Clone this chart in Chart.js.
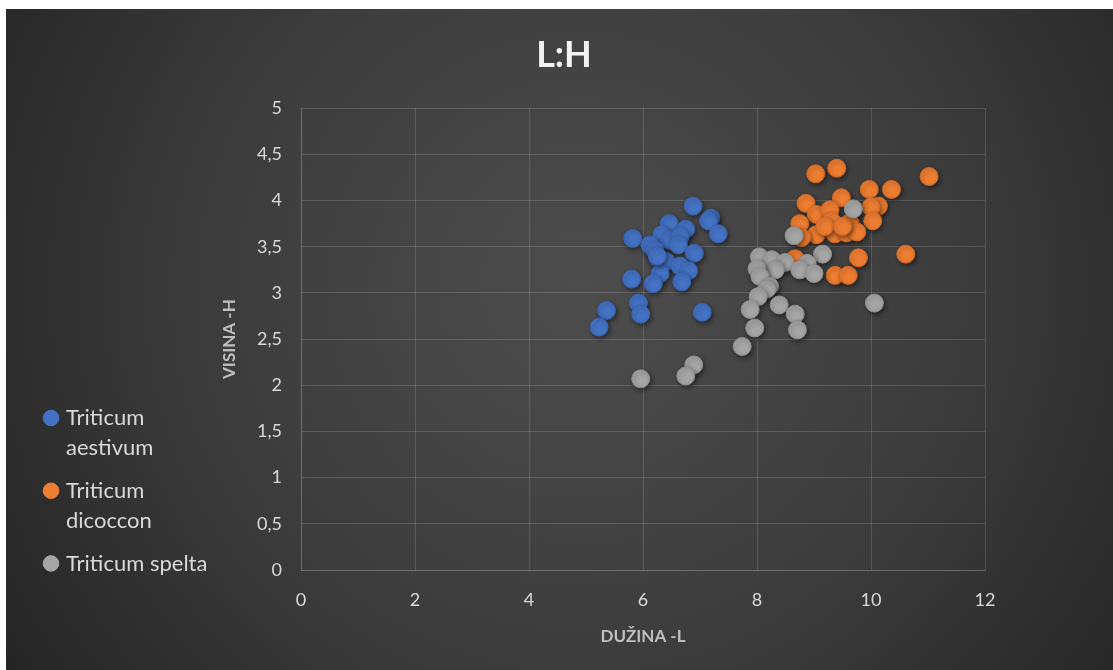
<!DOCTYPE html>
<html>
<head>
<meta charset="utf-8">
<script src="https://cdn.jsdelivr.net/npm/chart.js@4/dist/chart.umd.min.js"></script>
<style>
  html, body { margin: 0; padding: 0; background: #ffffff; }
  #wrap { position: absolute; left: 6px; top: 9px; width: 1107px; height: 661px; }
</style>
</head>
<body>
<div id="wrap"><canvas id="scatter-chart"></canvas></div>
<script>
// serije (nazivi)
var seriesNames = ['Triticum aestivum', 'Triticum dicoccon', 'Triticum spelta'];

// Triticum aestivum: DUŽINA -L / VISINA -H
var aestivumL = [6.88, 7.19, 7.15, 7.32, 6.46, 6.75, 5.82, 6.33, 6.12, 6.47, 6.65, 6.62, 6.21, 6.90, 6.27, 6.40, 6.30, 6.65, 6.80, 5.80, 6.18, 6.68, 5.92, 5.96, 5.36, 5.23, 7.04, 6.25];
var aestivumH = [3.94, 3.81, 3.78, 3.64, 3.75, 3.69, 3.59, 3.63, 3.52, 3.57, 3.61, 3.52, 3.46, 3.43, 3.37, 3.34, 3.21, 3.29, 3.24, 3.15, 3.10, 3.12, 2.89, 2.77, 2.81, 2.63, 2.79, 3.40];

// Triticum dicoccon
var dicocconL = [9.03, 9.40, 11.02, 9.97, 10.36, 8.86, 9.48, 10.13, 10.00, 9.04, 9.28, 9.31, 8.75, 10.03, 9.63, 9.04, 9.37, 9.57, 9.75, 8.78, 9.78, 10.61, 8.67, 9.37, 9.60, 9.19, 9.50];
var dicocconH = [4.29, 4.35, 4.26, 4.12, 4.12, 3.97, 4.03, 3.94, 3.93, 3.85, 3.90, 3.78, 3.75, 3.78, 3.76, 3.63, 3.64, 3.65, 3.66, 3.60, 3.38, 3.42, 3.37, 3.19, 3.19, 3.72, 3.72];

// Triticum spelta
var speltaL = [9.69, 8.65, 9.15, 8.04, 8.26, 8.49, 8.88, 8.75, 9.00, 8.32, 8.00, 8.05, 8.22, 8.17, 8.02, 7.88, 8.39, 8.67, 7.96, 8.71, 7.74, 10.06, 5.96, 6.89, 6.75];
var speltaH = [3.91, 3.62, 3.42, 3.39, 3.36, 3.33, 3.32, 3.25, 3.21, 3.25, 3.26, 3.18, 3.07, 3.04, 2.96, 2.82, 2.87, 2.77, 2.62, 2.60, 2.42, 2.89, 2.07, 2.22, 2.10];

// osi
var xTicks = [0, 2, 4, 6, 8, 10, 12];
var yTicks = [0, 0.5, 1, 1.5, 2, 2.5, 3, 3.5, 4, 4.5, 5];

var seriesColors = ['#4472C4', '#ED7D31', '#A5A5A5'];
var seriesBorders = ['#3a63ad', '#d06a26', '#8f8f8f'];

// parovi tocaka
var toPoints = function(xs, ys) {
    var pts = [];
    for (var i = 0; i < xs.length; i++) {
        pts.push({ x: xs[i], y: ys[i] });
    }
    return pts;
};

var allData = [toPoints(aestivumL, aestivumH), toPoints(dicocconL, dicocconH), toPoints(speltaL, speltaH)];

var dataSet = [];
for (var i = 0; i < seriesNames.length; i++) {
    dataSet.push({
        label: seriesNames[i],
        data: allData[i],
        backgroundColor: seriesColors[i],
        borderColor: seriesBorders[i],
        borderWidth: 1,
        pointRadius: 9,
        pointHoverRadius: 9,
        order: seriesNames.length - 1 - i // spelta na vrhu
    });
}

var commaFmt = function(v) { return String(v).replace('.', ','); };

// lijevi rub podrucja grafa i sredina naslova osi Y (px u canvasu)
var PLOT_LEFT = 295;
var PAD_LEFT = 29;
var YTITLE_X = 224;

// tamna radijalna pozadina
var bgPlugin = {
    id: 'darkBg',
    beforeDraw: function(chart) {
        var ctx = chart.ctx;
        var w = chart.width, h = chart.height;
        ctx.save();
        var g = ctx.createRadialGradient(w * 0.52, h * 0.42, 0, w * 0.52, h * 0.42, w * 0.62);
        g.addColorStop(0, '#4d4d4d');
        g.addColorStop(0.55, '#3c3c3c');
        g.addColorStop(1, '#252525');
        ctx.fillStyle = g;
        ctx.fillRect(0, 0, w, h);
        ctx.restore();
    }
};

// sjena ispod tocaka
var shadowPlugin = {
    id: 'pointShadow',
    beforeDatasetDraw: function(chart) {
        var ctx = chart.ctx;
        ctx.save();
        ctx.shadowColor = 'rgba(0,0,0,0.45)';
        ctx.shadowBlur = 4;
        ctx.shadowOffsetX = 1.5;
        ctx.shadowOffsetY = 2;
    },
    afterDatasetDraw: function(chart) {
        chart.ctx.restore();
    }
};

var canvas = document.getElementById('scatter-chart').getContext('2d');
new Chart(canvas, {
    type: 'scatter',
    data: { datasets: dataSet },
    plugins: [bgPlugin, shadowPlugin],
    options: {
        responsive: true,
        maintainAspectRatio: false,
        animation: false,
        layout: { padding: { left: PAD_LEFT, right: 20, top: 0, bottom: 0 } },
        plugins: {
            title: {
                display: true,
                text: 'L:H',
                color: '#f2f2f2',
                font: { family: 'Lato', size: 36, weight: 'bold', lineHeight: 1.2 },
                padding: { top: 25, bottom: 31 }
            },
            legend: {
                position: 'left',
                align: 'start',
                fullSize: true,
                // prazan naslov legende samo gura stavke prema dolje
                title: {
                    display: true,
                    text: ' ',
                    font: { family: 'Lato', size: 10, lineHeight: 1 },
                    padding: { top: 376, bottom: 0 }
                },
                labels: {
                    color: '#d9d9d9',
                    font: { family: 'Lato', size: 22, lineHeight: 1.38 },
                    usePointStyle: true,
                    pointStyle: 'circle',
                    boxWidth: 8,
                    boxHeight: 11,
                    padding: 12,
                    generateLabels: function(chart) {
                        var items = Chart.defaults.plugins.legend.labels.generateLabels(chart);
                        items.sort(function(a, b) { return a.datasetIndex - b.datasetIndex; });
                        items.forEach(function(it) {
                            it.fillStyle = seriesColors[it.datasetIndex];
                            it.strokeStyle = seriesColors[it.datasetIndex];
                            it.fontColor = '#d9d9d9';
                            // prelamanje dugih naziva kao u Excelu
                            if (it.text !== 'Triticum spelta') it.text = it.text.split(' ');
                        });
                        return items;
                    }
                }
            },
            tooltip: { enabled: false }
        },
        scales: {
            x: {
                type: 'linear',
                min: xTicks[0],
                max: xTicks[xTicks.length - 1],
                afterBuildTicks: function(s) { s.ticks = xTicks.map(function(v) { return { value: v }; }); },
                afterFit: function(s) { s.height = 100; },
                grid: { color: 'rgba(217,217,217,0.18)', drawTicks: false },
                border: { color: 'rgba(217,217,217,0.18)' },
                ticks: {
                    color: '#d9d9d9',
                    font: { family: 'Lato', size: 18 },
                    padding: 19,
                    callback: commaFmt
                },
                title: {
                    display: true,
                    text: 'DUŽINA -L',
                    color: '#bfbfbf',
                    font: { family: 'Lato', size: 17, weight: 'bold', lineHeight: 1.2 },
                    padding: { top: 14, bottom: 23 }
                }
            },
            y: {
                type: 'linear',
                min: yTicks[0],
                max: yTicks[yTicks.length - 1],
                afterBuildTicks: function(s) { s.ticks = yTicks.map(function(v) { return { value: v }; }); },
                // sirina osi tako da podrucje grafa pocne na PLOT_LEFT (legenda je vec izmjerena)
                afterFit: function(s) {
                    var axisLeft = PAD_LEFT + s.chart.legend.width;
                    s.width = PLOT_LEFT - axisLeft;
                    s.options.title.padding = { top: Math.max(0, YTITLE_X - 10.2 - axisLeft), bottom: 0 };
                },
                grid: { color: 'rgba(217,217,217,0.18)', drawTicks: false },
                border: { color: 'rgba(217,217,217,0.18)' },
                ticks: {
                    color: '#d9d9d9',
                    font: { family: 'Lato', size: 18 },
                    padding: 19,
                    callback: commaFmt
                },
                title: {
                    display: true,
                    text: 'VISINA -H',
                    color: '#bfbfbf',
                    font: { family: 'Lato', size: 17, weight: 'bold', lineHeight: 1.2 },
                    padding: { top: 0, bottom: 0 }
                }
            },
            // prazan prostor desno od grafa (naslov ostaje centriran na cijelu sliku)
            gapRight: {
                type: 'linear',
                position: 'right',
                display: true,
                afterFit: function(s) { s.width = 108; },
                grid: { display: false },
                border: { display: false },
                ticks: { display: false }
            }
        }
    }
});
</script>
</body>
</html>
